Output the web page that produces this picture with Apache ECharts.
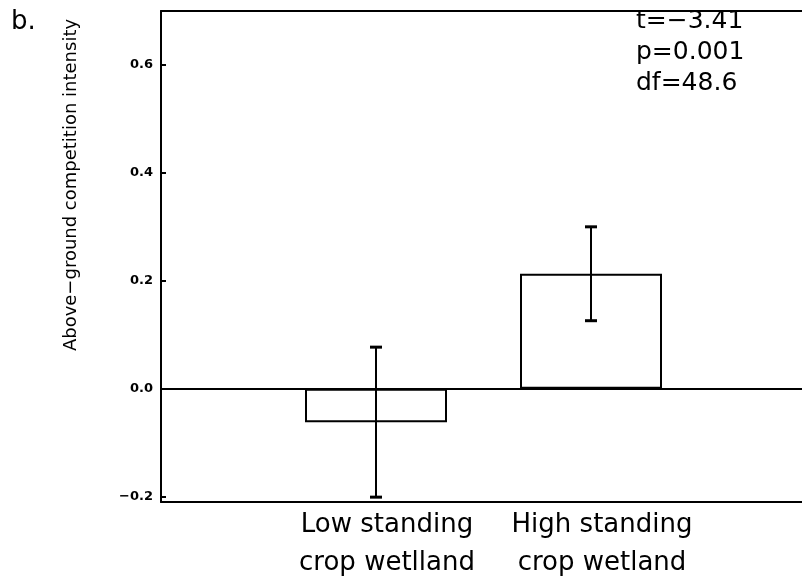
<!DOCTYPE html>
<html>
<head>
<meta charset="utf-8">
<script src="https://cdn.jsdelivr.net/npm/echarts@6/dist/echarts.min.js"></script>
<style>html,body{margin:0;padding:0;background:#fff}#c{width:802px;height:585px}</style>
</head>
<body>
<div id="c"></div>
<script>
var categories = ['Low standing\ncrop wetlland', 'High standing\ncrop wetland'];
var categoryX = [1, 2];
var means = [-0.062, 0.213];
var errors = [0.139, 0.087];
var yTicks = [-0.2, 0.0, 0.2, 0.4, 0.6];
var statsLines = ['t=\u22123.41', 'p=0.001', 'df=48.6'];
var panelLabel = 'b.';
var yTitle = 'Above\u2212ground competition intensity';

var F = 'DejaVu Sans';
var chart = echarts.init(document.getElementById('c'), null, {renderer: 'canvas'});

var barData = categoryX.map(function (x, i) { return [x, means[i]]; });
var errData = categoryX.map(function (x, i) { return [x, means[i] - errors[i], means[i] + errors[i]]; });

chart.setOption({
  animation: false,
  backgroundColor: '#fff',
  grid: {left: 161, right: -4, top: 11, bottom: 83, containLabel: false, outerBoundsMode: 'none'},
  xAxis: [{
    type: 'value', min: 0, max: 3, interval: 1,
    axisLine: {show: true, onZero: false, lineStyle: {color: '#000', width: 2}},
    axisTick: {show: false},
    splitLine: {show: false},
    axisLabel: {
      show: true, margin: 4, color: '#000', fontFamily: F, fontSize: 26, lineHeight: 38,
      padding: [0, 0, 0, 22], hideOverlap: false,
      formatter: function (v) { var i = categoryX.indexOf(v); return i >= 0 ? categories[i] : ''; }
    }
  }, {
    type: 'value', min: 0, max: 3, position: 'top',
    axisLine: {show: true, onZero: false, lineStyle: {color: '#000', width: 2}},
    axisTick: {show: false}, axisLabel: {show: false}, splitLine: {show: false}
  }],
  yAxis: {
    type: 'value', min: -0.21, max: 0.70,
    axisLine: {show: true, onZero: false, lineStyle: {color: '#000', width: 2}},
    axisTick: {show: true, inside: true, length: 5, customValues: yTicks, lineStyle: {color: '#000', width: 2}},
    splitLine: {show: false},
    axisLabel: {
      customValues: yTicks, margin: 8, color: '#000', fontFamily: F, fontSize: 13, fontWeight: 'bold',
      formatter: function (v) { return (v < 0 ? '\u2212' : '') + Math.abs(v).toFixed(1); }
    }
  },
  series: [{
    type: 'bar', data: barData, barWidth: 142, xAxisIndex: 0,
    itemStyle: {color: '#fff', borderColor: '#000', borderWidth: 2},
    markLine: {
      silent: true, symbol: 'none', label: {show: false},
      lineStyle: {color: '#000', width: 2, type: 'solid'},
      data: [{yAxis: 0}]
    },
    z: 2
  }, {
    type: 'custom', data: errData, xAxisIndex: 0, z: 5,
    renderItem: function (params, api) {
      var x = api.value(0);
      var lo = api.coord([x, api.value(1)]);
      var hi = api.coord([x, api.value(2)]);
      var w = 6;
      return {
        type: 'group',
        children: [
          {type: 'line', shape: {x1: lo[0], y1: lo[1], x2: hi[0], y2: hi[1]}, style: {stroke: '#000', lineWidth: 2}},
          {type: 'line', shape: {x1: lo[0] - w, y1: lo[1], x2: lo[0] + w, y2: lo[1]}, style: {stroke: '#000', lineWidth: 3}},
          {type: 'line', shape: {x1: hi[0] - w, y1: hi[1], x2: hi[0] + w, y2: hi[1]}, style: {stroke: '#000', lineWidth: 3}}
        ]
      };
    }
  }],
  graphic: [
    {type: 'text', left: 11, top: 9, style: {text: panelLabel, fontFamily: F, fontSize: 26, fill: '#000'}},
    {type: 'text', x: 71, y: 185, rotation: Math.PI / 2,
     style: {text: yTitle, fontFamily: F, fontSize: 18, fill: '#000', textAlign: 'center', textVerticalAlign: 'middle'}},
    {type: 'text', x: 636, y: 6, style: {text: statsLines.join('\n'), fontFamily: F, fontSize: 25, lineHeight: 31, fill: '#000'}}
  ]
});
</script>
</body>
</html>
